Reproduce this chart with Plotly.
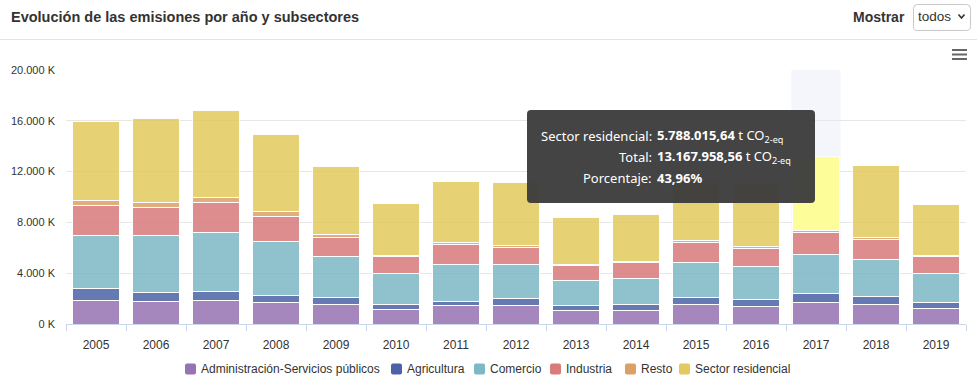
import plotly.graph_objects as go

years = ["2005", "2006", "2007", "2008", "2009", "2010", "2011", "2012",
         "2013", "2014", "2015", "2016", "2017", "2018", "2019"]
# values in thousands of t CO2-eq (K)
admin = [1890, 1810, 1860, 1710, 1570, 1180, 1420, 1440, 1100, 1080, 1500, 1370, 1710, 1570, 1230]
agricultura = [870, 680, 690, 550, 530, 340, 390, 580, 370, 470, 600, 570, 680, 580, 480]
comercio = [4190, 4440, 4640, 4250, 3180, 2470, 2840, 2700, 1990, 2050, 2780, 2550, 3070, 2940, 2230]
industria = [2420, 2230, 2340, 1920, 1570, 1290, 1620, 1290, 1110, 1230, 1550, 1470, 1760, 1580, 1360]
resto = [390, 390, 420, 420, 210, 150, 160, 150, 100, 130, 180, 130, 160, 130, 110]
residencial = [6170, 6640, 6850, 6110, 5330, 4070, 4780, 4970, 3730, 3680, 4700, 5000, 5788, 5720, 4020]

series_names = ["Administración-Servicios públicos", "Agricultura", "Comercio",
                "Industria", "Resto", "Sector residencial"]
series_vals = [admin, agricultura, comercio, industria, resto, residencial]
colors = ["#9673B2", "#4B62A6", "#7DB8C5", "#D97A7B", "#DCA066", "#E2CA5E"]

hover_year = "2017"
tooltip_lines = [("Sector residencial:", "<b>5.788.015,64</b> t CO<sub>2-eq</sub>"),
                 ("Total:", "<b>13.167.958,56</b> t CO<sub>2-eq</sub>"),
                 ("Porcentaje:", "<b>43,96%</b>")]

W, H = 977, 384
ML, MR, MT, MB = 66, 11, 70, 60
PW, PH = W - ML - MR, H - MT - MB

# legend layout (pixel x of each symbol)
legend_x = [185, 391, 474, 550, 625, 679]
legend_y = 369


def px(x):
    return (x - ML) / PW


def py(y):
    return (H - MB - y) / PH


def rrect(x0, y0, x1, y1, r):
    pts = [("M", [(x0 + r, y0)]), ("L", [(x1 - r, y0)]), ("Q", [(x1, y0), (x1, y0 + r)]),
           ("L", [(x1, y1 - r)]), ("Q", [(x1, y1), (x1 - r, y1)]), ("L", [(x0 + r, y1)]),
           ("Q", [(x0, y1), (x0, y1 - r)]), ("L", [(x0, y0 + r)]), ("Q", [(x0, y0), (x0 + r, y0)])]
    s = ""
    for cmd, ps in pts:
        s += cmd + " " + " ".join(f"{px(a):.5f},{py(b):.5f}" for a, b in ps) + " "
    return s + "Z"


fig = go.Figure()
hi_idx = years.index(hover_year)
for name, vals, col in zip(series_names, series_vals, colors):
    cols = [col] * len(years)
    if name == "Sector residencial":
        cols[hi_idx] = "#FFFF8A"
    fig.add_trace(go.Bar(
        x=years, y=vals, name=name, showlegend=False,
        marker=dict(color=cols, line=dict(color="white", width=1), opacity=0.85),
    ))

shapes = []
annotations = []
# hover band
shapes.append(dict(type="rect", xref="x", yref="paper", x0=hi_idx - 0.41, x1=hi_idx + 0.41,
                   y0=0, y1=1, fillcolor="#F5F6FB", line=dict(width=0), layer="below"))
# header separator line
shapes.append(dict(type="line", xref="paper", yref="paper", x0=px(0), x1=px(W), y0=py(39.5), y1=py(39.5),
                   line=dict(color="#E3E3E3", width=1)))
# select box
shapes.append(dict(type="path", xref="paper", yref="paper", path=rrect(913.5, 4.5, 970.5, 30.5, 4),
                   line=dict(color="#C8C8C8", width=1), fillcolor="white"))
# chevron
shapes.append(dict(type="path", xref="paper", yref="paper",
                   path=f"M {px(958.5)},{py(14.5)} L {px(961.5)},{py(18)} L {px(964.5)},{py(14.5)}",
                   line=dict(color="#333", width=1.6)))
# hamburger menu
for yy in (50, 54.5, 59):
    shapes.append(dict(type="line", xref="paper", yref="paper", x0=px(952), x1=px(967), y0=py(yy), y1=py(yy),
                       line=dict(color="#666666", width=2)))
# tooltip box
shapes.append(dict(type="path", xref="paper", yref="paper", path=rrect(527, 110, 815, 203, 4),
                   fillcolor="rgba(60,60,60,0.96)", line=dict(width=0)))

# legend (drawn)
for name, col, lx in zip(series_names, colors, legend_x):
    shapes.append(dict(type="path", xref="paper", yref="paper",
                       path=rrect(lx, legend_y - 5.5, lx + 11, legend_y + 5.5, 2),
                       fillcolor=col, line=dict(width=0)))
    annotations.append(dict(xref="paper", yref="paper", x=px(lx + 14), y=py(legend_y), xanchor="left",
                            yanchor="middle", text=name, showarrow=False,
                            font=dict(family="Liberation Sans, Arial, sans-serif", size=12, color="#333333")))

annotations.append(dict(xref="paper", yref="paper", x=px(9), y=py(17), xanchor="left", yanchor="middle",
                        text="<b>Evolución de las emisiones por año y subsectores</b>", showarrow=False,
                        font=dict(family="Liberation Sans, Arial, sans-serif", size=14.5, color="#333333")))
annotations.append(dict(xref="paper", yref="paper", x=px(907), y=py(17), xanchor="right", yanchor="middle",
                        text="<b>Mostrar</b>", showarrow=False,
                        font=dict(family="Liberation Sans, Arial, sans-serif", size=14, color="#333333")))
annotations.append(dict(xref="paper", yref="paper", x=px(916), y=py(17), xanchor="left", yanchor="middle",
                        text="todos", showarrow=False,
                        font=dict(family="Liberation Sans, Arial, sans-serif", size=13.5, color="#333333")))
for i, (lab, val) in enumerate(tooltip_lines):
    yy = 136 + i * 21
    annotations.append(dict(xref="paper", yref="paper", x=px(654), y=py(yy), xanchor="right", yanchor="middle",
                            text=lab, showarrow=False,
                            font=dict(family="Noto Sans, sans-serif", size=13, color="white")))
    annotations.append(dict(xref="paper", yref="paper", x=px(655), y=py(yy), xanchor="left", yanchor="middle",
                            text=val, showarrow=False,
                            font=dict(family="Noto Sans, sans-serif", size=13, color="white")))

fig.update_layout(
    width=W, height=H,
    margin=dict(l=ML, r=MR, t=MT, b=MB, pad=0, autoexpand=False),
    barmode="stack", bargap=0.233,
    plot_bgcolor="white", paper_bgcolor="white",
    separators=",.",
    font=dict(family="Liberation Sans, Arial, sans-serif", size=12, color="#333333"),
    shapes=shapes, annotations=annotations,
    showlegend=False,
    xaxis=dict(type="category", tickson="boundaries", ticks="outside", ticklen=6, tickcolor="#CCD6EB",
               showline=True, linecolor="#CCD6EB", linewidth=1, showgrid=False,
               tickfont=dict(size=12, color="#333333"), ticklabelstandoff=10),
    yaxis=dict(range=[0, 20000], tickmode="linear", tick0=0, dtick=4000, tickformat=",.0f",
               ticksuffix=" K", showticksuffix="all", gridcolor="#E6E6E6", gridwidth=1,
               zeroline=False, showline=False,
               tickfont=dict(size=11, color="#333333"), ticklabelstandoff=10),
)

fig.write_html("out.html", include_plotlyjs=True, config={"displayModeBar": False},
               post_script="document.body.style.margin='0';")
